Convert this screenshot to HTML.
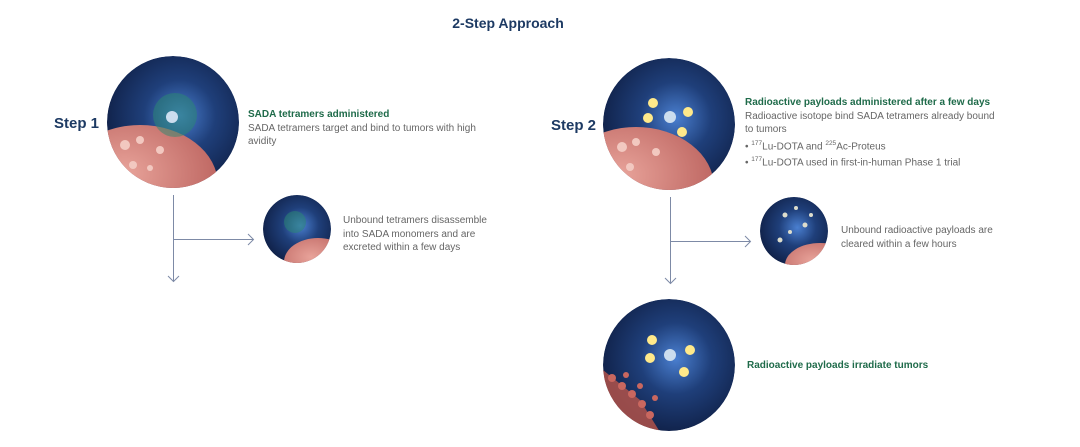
<!DOCTYPE html>
<html><head><meta charset="utf-8"><style>
body{margin:0;width:1080px;height:447px;background:#fff;overflow:hidden;font-family:"Liberation Sans",sans-serif;position:relative}
.t{position:absolute;font-size:10px;color:#666;line-height:13.5px;white-space:nowrap}
.g{color:#1f6b4a;font-weight:bold}
.s{position:absolute;font-weight:bold;color:#1d3a63;font-size:15px}
sup{font-size:6.5px}
</style></head><body>
<div class="s" style="left:0;width:1016px;text-align:center;top:15px;font-size:14px">2-Step Approach</div>
<div class="s" style="left:54px;top:115px">Step 1</div>
<div class="s" style="left:551px;top:117px">Step 2</div>
<svg width="1080" height="447" style="position:absolute;left:0;top:0">
<defs>
<radialGradient id="bg" cx="0.55" cy="0.45" r="0.6"><stop offset="0" stop-color="#4a7fd0"/><stop offset="0.45" stop-color="#1f3f7a"/><stop offset="1" stop-color="#0f1f45"/></radialGradient>
<radialGradient id="tm" cx="0.4" cy="0.4" r="0.7"><stop offset="0" stop-color="#e8a39a"/><stop offset="1" stop-color="#b85e5a"/></radialGradient>
<clipPath id="c1"><circle cx="173" cy="122" r="66"/></clipPath>
<clipPath id="c2"><circle cx="297" cy="229" r="34"/></clipPath>
<clipPath id="c3"><circle cx="669" cy="124" r="66"/></clipPath>
<clipPath id="c4"><circle cx="794" cy="231" r="34"/></clipPath>
<clipPath id="c5"><circle cx="669" cy="365" r="66"/></clipPath>
</defs>
<g clip-path="url(#c1)"><circle cx="173" cy="122" r="66" fill="url(#bg)"/><ellipse cx="140" cy="185" rx="78" ry="60" fill="url(#tm)"/><g fill="#f2c8c0"><circle cx="125" cy="145" r="5"/><circle cx="140" cy="140" r="4"/><circle cx="160" cy="150" r="4"/><circle cx="133" cy="165" r="4"/><circle cx="150" cy="168" r="3"/></g><circle cx="175" cy="115" r="22" fill="#2a8a70" opacity=".5"/><circle cx="172" cy="117" r="6" fill="#cde"/></g>
<g clip-path="url(#c2)"><circle cx="297" cy="229" r="34" fill="url(#bg)"/><ellipse cx="318" cy="262" rx="34" ry="24" fill="url(#tm)"/><circle cx="295" cy="222" r="11" fill="#2a8a70" opacity=".5"/></g>
<g clip-path="url(#c3)"><circle cx="669" cy="124" r="66" fill="url(#bg)"/><ellipse cx="636" cy="187" rx="78" ry="60" fill="url(#tm)"/><g fill="#f2c8c0"><circle cx="622" cy="147" r="5"/><circle cx="636" cy="142" r="4"/><circle cx="656" cy="152" r="4"/><circle cx="630" cy="167" r="4"/></g><circle cx="670" cy="117" r="6" fill="#cde"/><circle cx="653" cy="103" r="5" fill="#ffe98a"/><circle cx="688" cy="112" r="5" fill="#ffe98a"/><circle cx="648" cy="118" r="5" fill="#ffe98a"/><circle cx="682" cy="132" r="5" fill="#ffe98a"/></g>
<g clip-path="url(#c4)"><circle cx="794" cy="231" r="34" fill="url(#bg)"/><ellipse cx="820" cy="265" rx="35" ry="22" fill="url(#tm)"/><g fill="#ddc"><circle cx="785" cy="215" r="2.5"/><circle cx="805" cy="225" r="2.5"/><circle cx="780" cy="240" r="2.5"/><circle cx="796" cy="208" r="2"/><circle cx="790" cy="232" r="2"/><circle cx="811" cy="215" r="2"/></g></g>
<g clip-path="url(#c5)"><circle cx="669" cy="365" r="66" fill="url(#bg)"/><path d="M603 370 L640 400 L660 432 L603 432Z" fill="#b0524a" opacity=".85"/><g fill="#c9675f"><circle cx="612" cy="378" r="4"/><circle cx="622" cy="386" r="4"/><circle cx="632" cy="394" r="4"/><circle cx="642" cy="404" r="4"/><circle cx="650" cy="415" r="4"/><circle cx="626" cy="375" r="3"/><circle cx="640" cy="386" r="3"/><circle cx="655" cy="398" r="3"/></g><circle cx="670" cy="355" r="6" fill="#cde"/><circle cx="652" cy="340" r="5" fill="#ffe98a"/><circle cx="690" cy="350" r="5" fill="#ffe98a"/><circle cx="650" cy="358" r="5" fill="#ffe98a"/><circle cx="684" cy="372" r="5" fill="#ffe98a"/></g>
<g stroke="#7d8aa6" stroke-width="1" fill="none">
<path d="M173.5 195V281M168 276l5.5 5.5 5.5-5.5M173 239.5H253M248 234l5.5 5.5-5.5 5.5"/>
<path d="M670.5 197V283M665 278l5.5 5.5 5.5-5.5M670 241.5H750M745 236l5.5 5.5-5.5 5.5"/>
</g>
</svg>
<div class="t" style="left:248px;top:108px"><span class="g">SADA tetramers administered</span><br>SADA tetramers target and bind to tumors with high<br>avidity</div>
<div class="t" style="left:343px;top:214px">Unbound tetramers disassemble<br>into SADA monomers and are<br>excreted within a few days</div>
<div class="t" style="left:745px;top:96px"><span class="g">Radioactive payloads administered after a few days</span><br>Radioactive isotope bind SADA tetramers already bound<br>to tumors<br>• <sup>177</sup>Lu-DOTA and <sup>225</sup>Ac-Proteus<br>• <sup>177</sup>Lu-DOTA used in first-in-human Phase 1 trial</div>
<div class="t" style="left:841px;top:224px">Unbound radioactive payloads are<br>cleared within a few hours</div>
<div class="t" style="left:747px;top:359px"><span class="g">Radioactive payloads irradiate tumors</span></div>
</body></html>
